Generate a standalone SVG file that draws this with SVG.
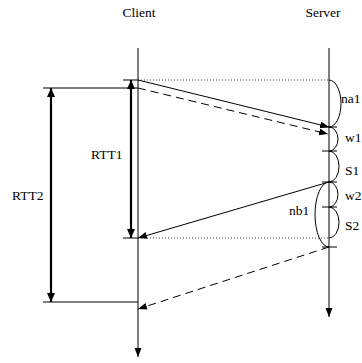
<svg xmlns="http://www.w3.org/2000/svg" width="362" height="363" viewBox="0 0 362 363" font-family="'Liberation Serif', 'Times New Roman', 'DejaVu Serif', serif">
<style>
text{font-family:"Liberation Serif","Times New Roman","DejaVu Serif",serif;font-size:13.5px;fill:#000}
.ln{stroke:#000;stroke-width:1;fill:none}
.thick{stroke:#000;stroke-width:2.2;fill:none}
.dot{stroke:#444;stroke-width:1;stroke-dasharray:1 2;fill:none}
.dash{stroke:#000;stroke-width:1;stroke-dasharray:8 5;fill:none}
.arc{stroke:#000;stroke-width:1;fill:none}
</style>
<defs>
<marker id="ah" markerWidth="10" markerHeight="8" refX="9" refY="3.5" orient="auto" markerUnits="userSpaceOnUse">
<path d="M0,0 L9,3.5 L0,7 Z" fill="#000"/>
</marker>
<marker id="ahb" markerWidth="10" markerHeight="10" refX="9" refY="4" orient="auto" markerUnits="userSpaceOnUse">
<path d="M0,0 L9,4 L0,8 Z" fill="#000"/>
</marker>
</defs>
<rect width="362" height="363" fill="#fff"/>
<g id="client">
<text x="139" y="16.5" text-anchor="middle">Client</text>
<line class="ln" x1="138" y1="48" x2="138" y2="357" marker-end="url(#ah)"/>
</g>
<g id="server">
<text x="323" y="16.5" text-anchor="middle">Server</text>
<line class="ln" x1="329" y1="48" x2="329" y2="317" marker-end="url(#ah)"/>
<g id="ticks">
<line class="ln" x1="322" y1="127" x2="337" y2="127"/>
<line class="ln" x1="322" y1="151" x2="337" y2="151"/>
<line class="ln" x1="322" y1="182" x2="337" y2="182"/>
<line class="ln" x1="322" y1="207" x2="337" y2="207"/>
<line class="ln" x1="322" y1="247" x2="337" y2="247"/>
</g>
</g>
<g id="na1">
<path class="arc" d="M329,80 A12,23.5 0 0 1 329,127"/>
<text x="341" y="103">na1</text>
</g>
<g id="w1">
<path class="arc" d="M329,127 A9,12 0 0 1 329,151"/>
<text x="345" y="142">w1</text>
</g>
<g id="S1">
<path class="arc" d="M329,151 A10,15.5 0 0 1 329,182"/>
<text x="345" y="175">S1</text>
</g>
<g id="w2">
<path class="arc" d="M329,182 A9,12.5 0 0 1 329,207"/>
<text x="345" y="200">w2</text>
</g>
<g id="S2">
<path class="arc" d="M329,207 A10,15.5 0 0 1 329,238"/>
<text x="345" y="230">S2</text>
</g>
<g id="nb1">
<path class="arc" d="M329,182 A14,32.5 0 0 0 329,247"/>
<text x="289" y="215">nb1</text>
</g>
<g id="RTT1">
<line class="ln" x1="123" y1="80" x2="138" y2="80"/>
<line class="ln" x1="123" y1="238" x2="138" y2="238"/>
<line class="thick" x1="131" y1="120" x2="131" y2="80" marker-end="url(#ahb)"/>
<line class="thick" x1="131" y1="120" x2="131" y2="238" marker-end="url(#ahb)"/>
<text x="91" y="159">RTT1</text>
</g>
<g id="RTT2">
<line class="ln" x1="43" y1="88" x2="138" y2="88"/>
<line class="ln" x1="43" y1="302" x2="138" y2="302"/>
<line class="thick" x1="51" y1="190" x2="51" y2="88" marker-end="url(#ahb)"/>
<line class="thick" x1="51" y1="190" x2="51" y2="302" marker-end="url(#ahb)"/>
<text x="12" y="200">RTT2</text>
</g>
<g id="connectors">
<line class="dot" x1="138" y1="80" x2="329" y2="80"/>
<line class="dot" x1="138" y1="238" x2="329" y2="238"/>
<line class="ln" x1="138" y1="80" x2="329" y2="127" marker-end="url(#ah)"/>
<line class="dash" x1="138" y1="88" x2="328" y2="134" marker-end="url(#ah)"/>
<line class="ln" x1="329" y1="182" x2="138" y2="238" marker-end="url(#ah)"/>
<line class="dash" x1="329" y1="247" x2="138" y2="309" marker-end="url(#ah)"/>
</g>
</svg>
